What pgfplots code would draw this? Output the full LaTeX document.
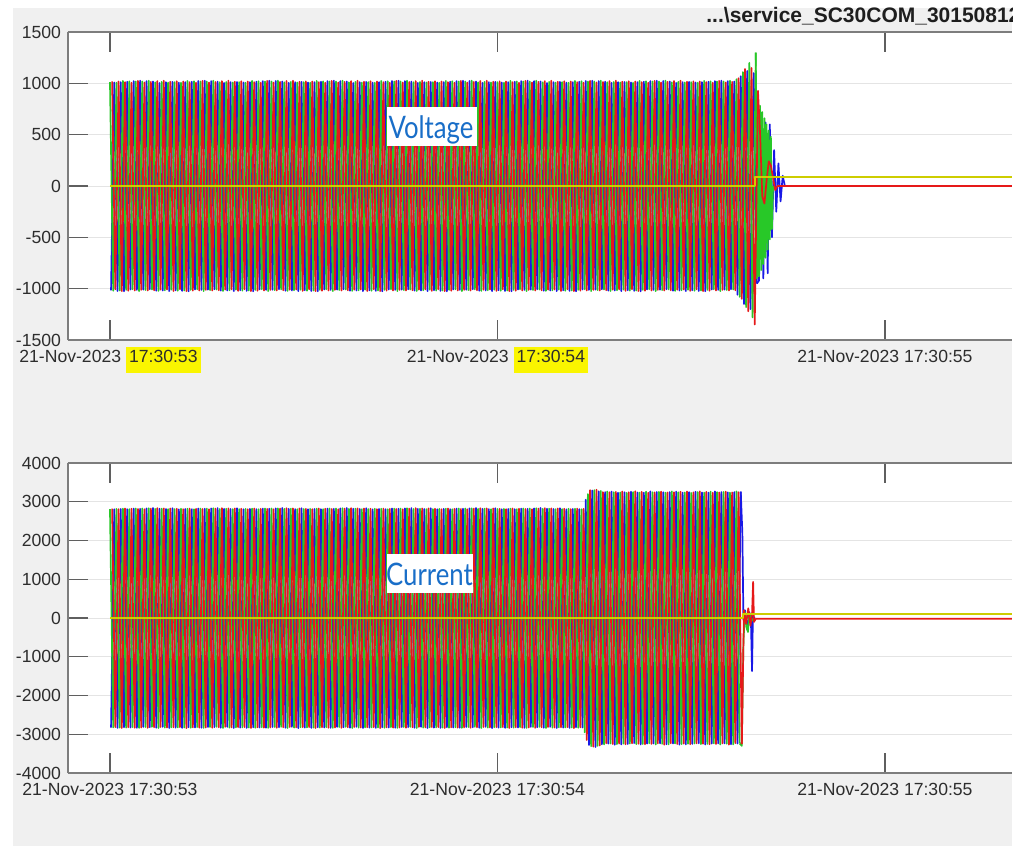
\documentclass[border=0pt]{standalone}
\usepackage{pgfplots}
\pgfplotsset{compat=1.18}
\usepackage{pgfplotstable}
\usepackage{fontspec}
\setmainfont{Liberation Sans}
\newfontfamily\labfont[FakeStretch=0.83]{Lato}
\definecolor{bggray}{RGB}{240,240,240}
\definecolor{axisgray}{RGB}{125,125,125}
\definecolor{tickgray}{RGB}{95,95,95}
\definecolor{gridgray}{RGB}{228,228,228}
\definecolor{labelgray}{RGB}{45,45,45}
\definecolor{titlegray}{RGB}{30,30,30}
\definecolor{hl}{RGB}{250,245,0}
\definecolor{cR}{RGB}{230,25,25}
\definecolor{cG}{RGB}{40,200,40}
\definecolor{cB}{RGB}{25,25,230}
\definecolor{cY}{RGB}{205,205,0}
\definecolor{labelblue}{RGB}{25,110,200}
\setlength{\fboxsep}{1.5pt}

\pgfplotstableread[row sep=\\]{
ua a uc c ub b\\
0 1012 1 -1016 2 1020\\
3 -1020 4 1008 5 -1006\\
6 1006 7 -1022 8 1018\\
9 -1018 10 1012 11 -1024\\
12 1024 13 -1026 14 1012\\
15 -1012 16 1016 17 -1020\\
18 1020 19 -1008 20 1006\\
21 -1006 22 1022 23 -1018\\
24 1018 25 -1012 26 1024\\
27 -1024 28 1026 29 -1012\\
30 1018 31 -1010 32 1008\\
33 -1014 34 1022 35 -1018\\
36 1026 37 -1006 38 1014\\
39 -1008 40 1018 41 -1016\\
42 1010 43 -1020 44 1022\\
45 -1022 46 1004 47 -1010\\
48 1014 49 -1018 50 1026\\
51 -1016 52 1012 53 -1008\\
54 1008 55 -1024 56 1016\\
57 -1010 58 1014 59 -1022\\
60 1012 61 -1016 62 1020\\
63 -1020 64 1008 65 -1006\\
66 1006 67 -1022 68 1018\\
69 -1018 70 1012 71 -1024\\
72 1024 73 -1026 74 1012\\
75 -1012 76 1016 77 -1020\\
78 1020 79 -1008 80 1006\\
81 -1006 82 1022 83 -1018\\
84 1018 85 -1012 86 1024\\
87 -1024 88 1026 89 -1012\\
90 1018 91 -1010 92 1008\\
93 -1014 94 1022 95 -1018\\
96 1026 97 -1006 98 1014\\
99 -1008 100 1018 101 -1016\\
102 1010 103 -1020 104 1022\\
105 -1022 106 1004 107 -1010\\
108 1014 109 -1018 110 1026\\
111 -1016 112 1012 113 -1008\\
114 1008 115 -1024 116 1016\\
117 -1010 118 1014 119 -1022\\
120 1012 121 -1016 122 1020\\
123 -1020 124 1008 125 -1006\\
126 1006 127 -1022 128 1018\\
129 -1018 130 1012 131 -1024\\
132 1024 133 -1026 134 1012\\
135 -1012 136 1016 137 -1020\\
138 1020 139 -1008 140 1006\\
141 -1006 142 1022 143 -1018\\
144 1018 145 -1012 146 1024\\
147 -1024 148 1026 149 -1012\\
150 1018 151 -1010 152 1008\\
153 -1014 154 1022 155 -1018\\
156 1026 157 -1006 158 1014\\
159 -1008 160 1018 161 -1016\\
162 1010 163 -1020 164 1022\\
165 -1022 166 1004 167 -1010\\
168 1014 169 -1018 170 1026\\
171 -1016 172 1012 173 -1008\\
174 1008 175 -1024 176 1016\\
177 -1010 178 1014 179 -1022\\
180 1012 181 -1016 182 1020\\
183 -1020 184 1008 185 -1006\\
186 1006 187 -1022 188 1018\\
189 -1018 190 1012 191 -1024\\
192 1024 193 -1026 194 1012\\
195 -1012 196 1016 197 -1020\\
198 1020 199 -1008 200 1006\\
201 -1006 202 1022 203 -1018\\
204 1018 205 -1012 206 1024\\
207 -1024 208 1026 209 -1012\\
210 1018 211 -1010 212 1008\\
213 -1014 214 1022 215 -1018\\
216 1026 217 -1006 218 1014\\
219 -1008 220 1018 221 -1016\\
222 1010 223 -1020 224 1022\\
225 -1022 226 1004 227 -1010\\
228 1014 229 -1018 230 1026\\
231 -1016 232 1012 233 -1008\\
234 1008 235 -1024 236 1016\\
237 -1010 238 1014 239 -1022\\
240 1012 241 -1016 242 1020\\
243 -1020 244 1008 245 -1006\\
246 1006 247 -1022 248 1018\\
249 -1018 250 1012 251 -1024\\
252 1024 253 -1026 254 1012\\
255 -1012 256 1016 257 -1020\\
258 1020 259 -1008 260 1006\\
261 -1006 262 1022 263 -1018\\
264 1018 265 -1012 266 1024\\
267 -1024 268 1026 269 -1012\\
270 1018 271 -1010 272 1008\\
273 -1014 274 1022 275 -1018\\
276 1026 277 -1006 278 1014\\
279 -1008 280 1018 281 -1016\\
282 1010 283 -1020 284 1022\\
285 -1022 286 1004 287 -1010\\
288 1014 289 -1018 290 1026\\
291 -1016 292 1012 293 -1008\\
294 1008 295 -1024 296 1016\\
297 -1010 298 1014 299 -1022\\
300 1012 301 -1016 302 1020\\
303 -1020 304 1008 305 -1006\\
306 1006 307 -1022 308 1018\\
309 -1018 310 1012 311 -1024\\
312 1024 313 -1026 314 1012\\
315 -1012 316 1016 317 -1020\\
318 1020 319 -1008 320 1006\\
321 -1006 322 1022 323 -1018\\
324 1018 325 -1012 326 1024\\
327 -1024 328 1026 329 -1012\\
330 1018 331 -1010 332 1008\\
333 -1014 334 1022 335 -1018\\
336 1026 337 -1006 338 1014\\
339 -1008 340 1018 341 -1016\\
342 1010 343 -1020 344 1022\\
345 -1022 346 1004 347 -1010\\
348 1014 349 -1018 350 1026\\
351 -1016 352 1012 353 -1008\\
354 1008 355 -1024 356 1016\\
357 -1010 358 1014 359 -1022\\
360 1012 361 -1016 362 1020\\
363 -1020 364 1008 365 -1006\\
366 1006 367 -1022 368 1018\\
369 -1018 370 1012 371 -1024\\
372 1024 373 -1026 374 1012\\
375 -1012 376 1016 377 -1020\\
378 1020 379 -1008 380 1006\\
381 -1006 382 1022 383 -1018\\
384 1018 385 -1012 386 1024\\
387 -1024 388 1026 389 -1012\\
390 1018 391 -1010 392 1008\\
393 -1014 394 1022 395 -1018\\
396 1026 397 -1006 398 1014\\
399 -1008 400 1018 401 -1016\\
402 1010 403 -1020 404 1022\\
405 -1022 406 1004 407 -1010\\
408 1014 409 -1018 410 1026\\
411 -1016 412 1012 413 -1008\\
414 1008 415 -1024 416 1016\\
417 -1010 418 1014 419 -1022\\
420 1012 421 -1016 422 1020\\
423 -1020 424 1008 425 -1006\\
426 1006 427 -1022 428 1018\\
429 -1018 430 1012 431 -1024\\
432 1024 433 -1026 434 1012\\
435 -1012 436 1016 437 -1020\\
438 1020 439 -1008 440 1006\\
441 -1006 442 1022 443 -1018\\
444 1018 445 -1012 446 1024\\
447 -1024 448 1026 449 -1012\\
450 1018 451 -1010 452 1008\\
453 -1014 454 1022 455 -1018\\
456 1026 457 -1006 458 1014\\
459 -1008 460 1018 461 -1016\\
462 1010 463 -1020 464 1022\\
465 -1022 466 1004 467 -1010\\
468 1014 469 -1018 470 1026\\
471 -1016 472 1012 473 -1008\\
474 1008 475 -1024 476 1016\\
477 -1010 478 1014 479 -1022\\
480 1012 481 -1016 482 1020\\
483 -1020 484 1008 485 -1006\\
486 1006 487 -1022 488 1018\\
489 -1018 490 1012 491 -1024\\
492 1024 493 -1026 494 1012\\
495 -1012 496 1016 497 -1020\\
498 1020 499 -1008 500 1006\\
501 -1006 502 1022 503 -1018\\
504 1018 505 -1012 506 1024\\
507 -1024 508 1026 509 -1012\\
510 1018 511 -1010 512 1008\\
513 -1014 514 1022 515 -1018\\
516 1026 517 -1006 518 1014\\
519 -1008 520 1018 521 -1016\\
522 1010 523 -1020 524 1022\\
525 -1022 526 1004 527 -1010\\
528 1014 529 -1018 530 1026\\
531 -1016 532 1012 533 -1008\\
534 1008 535 -1024 536 1016\\
537 -1010 538 1014 539 -1022\\
540 1012 541 -1016 542 1020\\
543 -1020 544 1008 545 -1006\\
546 1006 547 -1022 548 1018\\
549 -1018 550 1012 551 -1024\\
552 1024 553 -1026 554 1012\\
555 -1012 556 1016 557 -1020\\
558 1020 559 -1008 560 1006\\
561 -1006 562 1022 563 -1018\\
564 1018 565 -1012 566 1024\\
567 -1024 568 1026 569 -1012\\
570 1018 571 -1010 572 1008\\
573 -1014 574 1022 575 -1018\\
576 1026 577 -1006 578 1014\\
579 -1008 580 1018 581 -1016\\
582 1040 583 -1060 584 1050\\
585 -1080 586 1070 587 -1100\\
588 1110 589 -1150 590 1140\\
591 -1180 592 1120 593 -1220\\
594 1200 595 -1200 596 1150\\
597 -1280 598 1100 599 -1350\\
600 1300 601 -950 602 930\\
}\voltdata

\pgfplotstableread[row sep=\\]{
ua a uc c ub b\\
0 2812 1 -2830 2 2820\\
3 -2824 4 2806 5 -2816\\
6 2818 7 -2836 8 2810\\
9 -2828 10 2815 11 -2840\\
12 2822 13 -2820 14 2826\\
15 -2832 16 2810 17 -2822\\
18 2808 19 -2826 20 2818\\
21 -2818 22 2824 23 -2830\\
24 2826 25 -2834 26 2814\\
27 -2836 28 2820 29 -2826\\
30 2826 31 -2812 32 2808\\
33 -2814 34 2830 35 -2834\\
36 2832 37 -2818 38 2824\\
39 -2810 40 2838 41 -2820\\
42 2816 43 -2832 44 2836\\
45 -2840 46 2818 47 -2812\\
48 2822 49 -2810 50 2830\\
51 -2830 52 2812 53 -2824\\
54 2810 55 -2840 56 2828\\
57 -2822 58 2834 59 -2818\\
60 2812 61 -2830 62 2820\\
63 -2824 64 2806 65 -2816\\
66 2818 67 -2836 68 2810\\
69 -2828 70 2815 71 -2840\\
72 2822 73 -2820 74 2826\\
75 -2832 76 2810 77 -2822\\
78 2808 79 -2826 80 2818\\
81 -2818 82 2824 83 -2830\\
84 2826 85 -2834 86 2814\\
87 -2836 88 2820 89 -2826\\
90 2826 91 -2812 92 2808\\
93 -2814 94 2830 95 -2834\\
96 2832 97 -2818 98 2824\\
99 -2810 100 2838 101 -2820\\
102 2816 103 -2832 104 2836\\
105 -2840 106 2818 107 -2812\\
108 2822 109 -2810 110 2830\\
111 -2830 112 2812 113 -2824\\
114 2810 115 -2840 116 2828\\
117 -2822 118 2834 119 -2818\\
120 2812 121 -2830 122 2820\\
123 -2824 124 2806 125 -2816\\
126 2818 127 -2836 128 2810\\
129 -2828 130 2815 131 -2840\\
132 2822 133 -2820 134 2826\\
135 -2832 136 2810 137 -2822\\
138 2808 139 -2826 140 2818\\
141 -2818 142 2824 143 -2830\\
144 2826 145 -2834 146 2814\\
147 -2836 148 2820 149 -2826\\
150 2826 151 -2812 152 2808\\
153 -2814 154 2830 155 -2834\\
156 2832 157 -2818 158 2824\\
159 -2810 160 2838 161 -2820\\
162 2816 163 -2832 164 2836\\
165 -2840 166 2818 167 -2812\\
168 2822 169 -2810 170 2830\\
171 -2830 172 2812 173 -2824\\
174 2810 175 -2840 176 2828\\
177 -2822 178 2834 179 -2818\\
180 2812 181 -2830 182 2820\\
183 -2824 184 2806 185 -2816\\
186 2818 187 -2836 188 2810\\
189 -2828 190 2815 191 -2840\\
192 2822 193 -2820 194 2826\\
195 -2832 196 2810 197 -2822\\
198 2808 199 -2826 200 2818\\
201 -2818 202 2824 203 -2830\\
204 2826 205 -2834 206 2814\\
207 -2836 208 2820 209 -2826\\
210 2826 211 -2812 212 2808\\
213 -2814 214 2830 215 -2834\\
216 2832 217 -2818 218 2824\\
219 -2810 220 2838 221 -2820\\
222 2816 223 -2832 224 2836\\
225 -2840 226 2818 227 -2812\\
228 2822 229 -2810 230 2830\\
231 -2830 232 2812 233 -2824\\
234 2810 235 -2840 236 2828\\
237 -2822 238 2834 239 -2818\\
240 2812 241 -2830 242 2820\\
243 -2824 244 2806 245 -2816\\
246 2818 247 -2836 248 2810\\
249 -2828 250 2815 251 -2840\\
252 2822 253 -2820 254 2826\\
255 -2832 256 2810 257 -2822\\
258 2808 259 -2826 260 2818\\
261 -2818 262 2824 263 -2830\\
264 2826 265 -2834 266 2814\\
267 -2836 268 2820 269 -2826\\
270 2826 271 -2812 272 2808\\
273 -2814 274 2830 275 -2834\\
276 2832 277 -2818 278 2824\\
279 -2810 280 2838 281 -2820\\
282 2816 283 -2832 284 2836\\
285 -2840 286 2818 287 -2812\\
288 2822 289 -2810 290 2830\\
291 -2830 292 2812 293 -2824\\
294 2810 295 -2840 296 2828\\
297 -2822 298 2834 299 -2818\\
300 2812 301 -2830 302 2820\\
303 -2824 304 2806 305 -2816\\
306 2818 307 -2836 308 2810\\
309 -2828 310 2815 311 -2840\\
312 2822 313 -2820 314 2826\\
315 -2832 316 2810 317 -2822\\
318 2808 319 -2826 320 2818\\
321 -2818 322 2824 323 -2830\\
324 2826 325 -2834 326 2814\\
327 -2836 328 2820 329 -2826\\
330 2826 331 -2812 332 2808\\
333 -2814 334 2830 335 -2834\\
336 2832 337 -2818 338 2824\\
339 -2810 340 2838 341 -2820\\
342 2816 343 -2832 344 2836\\
345 -2840 346 2818 347 -2812\\
348 2822 349 -2810 350 2830\\
351 -2830 352 2812 353 -2824\\
354 2810 355 -2840 356 2828\\
357 -2822 358 2834 359 -2818\\
360 2812 361 -2830 362 2820\\
363 -2824 364 2806 365 -2816\\
366 2818 367 -2836 368 2810\\
369 -2828 370 2815 371 -2840\\
372 2822 373 -2820 374 2826\\
375 -2832 376 2810 377 -2822\\
378 2808 379 -2826 380 2818\\
381 -2818 382 2824 383 -2830\\
384 2826 385 -2834 386 2814\\
387 -2836 388 2820 389 -2826\\
390 2826 391 -2812 392 2808\\
393 -2814 394 2830 395 -2834\\
396 2832 397 -2818 398 2824\\
399 -2810 400 2838 401 -2820\\
402 2816 403 -2832 404 2836\\
405 -2840 406 2818 407 -2812\\
408 2822 409 -2810 410 2830\\
411 -2830 412 2812 413 -2824\\
414 2810 415 -2840 416 2828\\
417 -2822 418 2834 419 -2818\\
420 2812 421 -2830 422 2820\\
423 -2824 424 2806 425 -2816\\
426 2818 427 -2836 428 2810\\
429 -2828 430 2815 431 -2840\\
432 2822 433 -2820 434 2826\\
435 -2832 436 2810 437 -2822\\
438 2808 439 -2826 440 2818\\
441 -2950 442 3050 443 -3150\\
444 3200 445 -3280 446 3300\\
447 -3310 448 3290 449 -3320\\
450 3300 451 -3330 452 3310\\
453 -3300 454 3270 455 -3290\\
456 3280 457 -3260 458 3250\\
459 -3262 460 3250 461 -3232\\
462 3268 463 -3240 464 3246\\
465 -3238 466 3264 467 -3252\\
468 3244 469 -3270 470 3258\\
471 -3256 472 3234 473 -3242\\
474 3240 475 -3262 476 3266\\
477 -3244 478 3248 479 -3258\\
480 3230 481 -3250 482 3245\\
483 -3240 484 3260 485 -3235\\
486 3250 487 -3230 488 3270\\
489 -3255 490 3240 491 -3245\\
492 3238 493 -3265 494 3255\\
495 -3250 496 3236 497 -3260\\
498 3262 499 -3242 500 3232\\
501 -3234 502 3268 503 -3250\\
504 3248 505 -3238 506 3242\\
507 -3266 508 3252 509 -3236\\
510 3255 511 -3236 512 3262\\
513 -3248 514 3244 515 -3270\\
516 3236 517 -3258 518 3240\\
519 -3262 520 3250 521 -3232\\
522 3268 523 -3240 524 3246\\
525 -3238 526 3264 527 -3252\\
528 3244 529 -3270 530 3258\\
531 -3256 532 3234 533 -3242\\
534 3240 535 -3262 536 3266\\
537 -3244 538 3248 539 -3258\\
540 3230 541 -3250 542 3245\\
543 -3240 544 3260 545 -3235\\
546 3250 547 -3230 548 3270\\
549 -3255 550 3240 551 -3245\\
552 3238 553 -3265 554 3255\\
555 -3250 556 3236 557 -3260\\
558 3262 559 -3242 560 3232\\
561 -3234 562 3268 563 -3250\\
564 3248 565 -3238 566 3242\\
567 -3266 568 3252 569 -3236\\
570 3255 571 -3236 572 3262\\
573 -3248 574 3244 575 -3270\\
576 3236 577 -3258 578 3240\\
579 -3262 580 3250 581 -3232\\
582 3268 583 -3240 584 3246\\
585 -3238 586 3264 587 -3252\\
}\currdata

\pgfplotsset{
  scopestyle/.style={
    scale only axis, width=472pt,
    xmin=-39, xmax=838,
    axis background/.style={fill=white},
    axis x line=box, axis y line*=left,
    tick align=inside,
    axis line style={draw=axisgray, line width=0.9pt},
    major tick length=10pt,
    major tick style={draw=tickgray, line width=0.6pt},
    ymajorgrids, grid style={draw=gridgray, line width=0.5pt},
    xtick={0,360,720},
    tick label style={font=\fontsize{8.8}{10}\selectfont, text=labelgray},
    xticklabel style={yshift=-1.5pt},
    /pgf/number format/assume math mode=true,
    /pgf/number format/1000 sep={},
    every axis plot/.append style={line width=0.85pt, line join=round},
  }
}

\begin{document}
\begin{tikzpicture}[x=1pt,y=1pt]
\useasboundingbox (0,0) rectangle (509.5,-423);
\fill[white] (0,0) rectangle (509.5,-423);
\fill[bggray] (6.5,-4) rectangle (506,-423);
\begin{scope}
\clip (0,0) rectangle (506,-423);
\node[anchor=base west, inner sep=0, font=\bfseries\fontsize{10.5}{12}\selectfont, text=titlegray] at (353,-11.5) {...\textbackslash service\_SC30COM\_3015081234};
\end{scope}

\begin{axis}[scopestyle, at={(34pt,-170pt)}, anchor=south west, height=154pt,
  ymin=-1500, ymax=1500, ytick={-1500,-1000,...,1500},
  xticklabels={{21-Nov-2023 \smash{\colorbox{hl}{\rule[-4pt]{0pt}{10.2pt}17:30:53}}},
               {21-Nov-2023 \smash{\colorbox{hl}{\rule[-4pt]{0pt}{10.2pt}17:30:54}}},
               {21-Nov-2023 17:30:55}}]
\addplot[cB] table[x=uc, y=c] {\voltdata};
\addplot[cB] coordinates {(601,-950)(603,-920)(605,300)(607,-900)(609,620)(611,-850)(613,600)(615,-500)(617,350)(619,-250)(621,220)(623,-150)(625,100)(627,0)};
\addplot[cG] table[x=ua, y=a] {\voltdata};
\addplot[cG] coordinates {(600,1300)(601,-900)(602,840)(603,-880)(604,780)(605,-820)(606,720)(607,-760)(608,660)(609,-700)(610,600)(611,-620)(612,540)(613,-520)(614,480)(615,-420)(616,0)};
\addplot[cR] table[x=ub, y=b] {\voltdata};
\addplot[cR] coordinates {(602,930)(604,500)(606,-100)(608,-170)(610,50)(612,240)(614,200)(616,80)(618,-40)(620,0)(838,0)};
\addplot[cY] coordinates {(0,0)(599,0)(599,90)(838,90)};
\end{axis}
\fill[white] (193.5,-53.5) rectangle (238.5,-73);
\node[anchor=base, inner sep=0, text=labelblue, font=\fontsize{15.5}{17}\labfont] at (215.5,-69.2) {Voltage};

\begin{axis}[scopestyle, at={(34pt,-386.5pt)}, anchor=south west, height=155pt,
  ymin=-4000, ymax=4000, ytick={-4000,-3000,...,4000},
  xticklabels={{21-Nov-2023 17:30:53},{21-Nov-2023 17:30:54},{21-Nov-2023 17:30:55}}]
\addplot[cB] table[x=uc, y=c] {\currdata};
\addplot[cB] coordinates {(586,3264)(587.5,2200)(588.5,-50)(590,200)(592,-300)(594,150)(595.5,-100)(596.5,-1370)(597.3,50)(599,0)};
\addplot[cG] table[x=ua, y=a] {\currdata};
\addplot[cG] coordinates {(585,-3238)(587,-3300)(588.5,-600)(590,150)(591.5,-250)(592.7,-360)(594,100)(596,-80)(598,0)};
\addplot[cR] table[x=ub, y=b] {\currdata};
\addplot[cR] coordinates {(587,-3252)(589,200)(591,-150)(593,250)(595,-200)(596.5,100)(597.5,930)(598.3,-100)(600,-20)(838,-20)};
\addplot[cY] coordinates {(0,0)(588,0)(588,110)(838,110)};
\end{axis}
\fill[white] (193.5,-277) rectangle (236.5,-296.5);
\node[anchor=base, inner sep=0, text=labelblue, font=\fontsize{15.5}{17}\labfont] at (214.75,-292.5) {Current};
\end{tikzpicture}
\end{document}
